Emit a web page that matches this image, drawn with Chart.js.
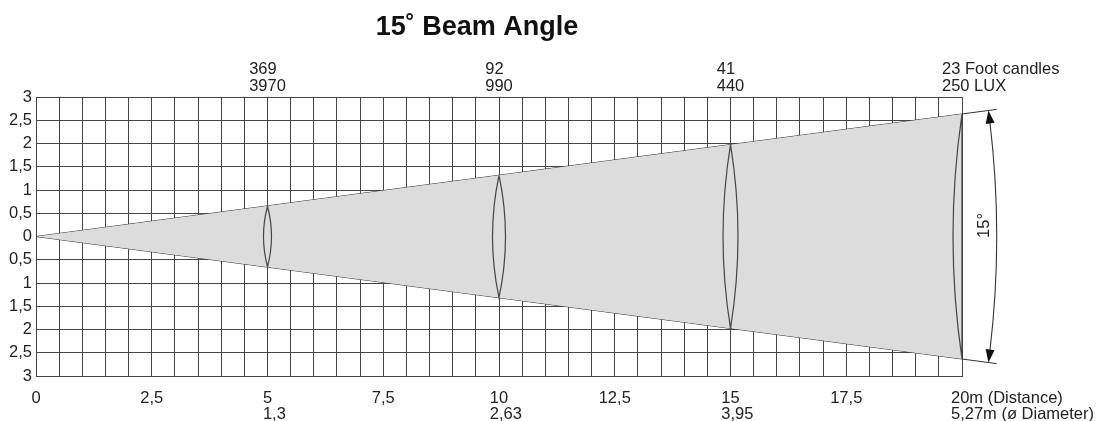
<!DOCTYPE html>
<html>
<head>
<meta charset="utf-8">
<script src="https://cdn.jsdelivr.net/npm/chart.js@4.4.1/dist/chart.umd.min.js"></script>
<style>
  html,body{margin:0;padding:0;background:#fff;}
  canvas{display:block;}
</style>
</head>
<body>
<canvas id="beam" width="1101" height="421"></canvas>
<script>
// Beam data
const distances = [5, 10, 15, 20];            // m
const diameters = [1.3, 2.63, 3.95, 5.27];    // m
const footCandles = [369, 92, 41, 23];
const lux = [3970, 990, 440, 250];

const xLabelValues = [0, 2.5, 5, 7.5, 10, 12.5, 15, 17.5, 20];
const xLabels = ['0', '2,5', '5', '7,5', '10', '12,5', '15', '17,5', '20m (Distance)'];
const diameterLabels = ['1,3', '2,63', '3,95', '5,27m (ø Diameter)'];
const topLine1 = ['369', '92', '41', '23 Foot candles'];
const topLine2 = ['3970', '990', '440', '250 LUX'];

const edgeExtent = 20.75;   // beam edges run a little past the grid
const arcRadius = 20.75;    // angle arrow radius, in distance units

(function(){
  const FONT = '"Liberation Sans", Arial, sans-serif';
  const INK = '#222';
  const LINE = '#444';
  const TXT = 16.5;

  const last = distances.length - 1;
  const halfEnd = diameters[last] / 2;
  const slope = halfEnd / distances[last];
  const edgeY = slope * edgeExtent;

  // closed beam shape up to the last distance
  const beamShape = [{x:0, y:0}, {x:distances[last], y:halfEnd}, {x:distances[last], y:-halfEnd}, {x:0, y:0}];

  const lensLeft = [4, 6.5, 7.5, 9];
  const lensRight = [4, 6.5, 7.5, 0];

  const overlay = {
    id: 'overlay',
    afterDatasetsDraw(chart){
      const {ctx, scales:{x, y}} = chart;
      ctx.save();
      // lenses
      ctx.strokeStyle = LINE;
      ctx.lineWidth = 1.2;
      distances.forEach((d, i) => {
        const h = diameters[i] / 2;
        const px = x.getPixelForValue(d);
        const yT = y.getPixelForValue(h), yB = y.getPixelForValue(-h);
        const ym = (yT + yB) / 2;
        ctx.beginPath();
        ctx.moveTo(px, yT);
        ctx.quadraticCurveTo(px - 2 * lensLeft[i], ym, px, yB);
        ctx.quadraticCurveTo(px + 2 * lensRight[i], ym, px, yT);
        ctx.stroke();
      });

      // angle arrow
      const x0 = x.getPixelForValue(0), y0 = y.getPixelForValue(0);
      const r = x.getPixelForValue(arcRadius) - x0;
      const a = Math.atan((y0 - y.getPixelForValue(halfEnd)) / (x.getPixelForValue(distances[last]) - x0));
      ctx.strokeStyle = '#333';
      ctx.lineWidth = 1.1;
      ctx.beginPath();
      ctx.arc(x0, y0, r, -a + 0.012, a - 0.012);
      ctx.stroke();
      ctx.fillStyle = '#111';
      [-1, 1].forEach(s => {
        const th = s * a;
        const px = x0 + r * Math.cos(th), py = y0 + r * Math.sin(th);
        // tangent pointing outward along the arc
        const dx = -Math.sin(th) * s, dy = Math.cos(th) * s;
        const L = 13, W = 4.5;
        const bx = px - dx * L, by = py - dy * L;
        ctx.beginPath();
        ctx.moveTo(px, py);
        ctx.lineTo(bx - dy * W, by + dx * W);
        ctx.lineTo(bx + dy * W, by - dx * W);
        ctx.closePath();
        ctx.fill();
      });
      ctx.save();
      ctx.translate(x0 + r - 12, y0 - 11);
      ctx.rotate(-Math.PI / 2);
      ctx.fillStyle = INK;
      ctx.font = TXT + 'px ' + FONT;
      ctx.textAlign = 'center';
      ctx.textBaseline = 'middle';
      ctx.fillText('15°', 0, 0);
      ctx.restore();
      ctx.restore();
    },
    afterDraw(chart){
      const {ctx, scales:{x}} = chart;
      ctx.save();
      ctx.fillStyle = INK;
      ctx.textBaseline = 'alphabetic';

      // title
      ctx.font = 'bold 27px ' + FONT;
      ctx.textAlign = 'center';
      ctx.fillStyle = '#111';
      ctx.fillText('15˚ Beam Angle', 477, 35);

      ctx.fillStyle = INK;
      ctx.font = TXT + 'px ' + FONT;
      ctx.textAlign = 'left';

      // intensity labels above the grid
      distances.forEach((d, i) => {
        const px = x.getPixelForValue(d);
        const w = ctx.measureText(topLine2[i]).width;
        const start = i === last ? px - 20 : px - w / 2;
        ctx.fillText(topLine1[i], start, 74);
        ctx.fillText(topLine2[i], start, 91);
      });

      // distance / diameter labels below the grid
      xLabelValues.forEach((v, i) => {
        const px = x.getPixelForValue(v);
        const w = ctx.measureText(xLabels[i]).width;
        const isLast = i === xLabelValues.length - 1;
        const start = isLast ? px - 11 : px - w / 2;
        ctx.fillText(xLabels[i], start, 403);
        const k = distances.indexOf(v);
        if (k >= 0) ctx.fillText(diameterLabels[k], start, 419);
      });
      ctx.restore();
    }
  };

  new Chart(document.getElementById('beam').getContext('2d'), {
    type: 'scatter',
    data: {
      datasets: [
        { data: beamShape, showLine: true, fill: 'shape', backgroundColor: '#dcdcdc',
          borderWidth: 0, pointRadius: 0, tension: 0 },
        { data: [{x:0, y:0}, {x:edgeExtent, y:edgeY}], showLine: true, borderColor: '#333',
          borderWidth: 1, pointRadius: 0, clip: false },
        { data: [{x:0, y:0}, {x:edgeExtent, y:-edgeY}], showLine: true, borderColor: '#333',
          borderWidth: 1, pointRadius: 0, clip: false }
      ]
    },
    options: {
      responsive: false,
      animation: false,
      devicePixelRatio: 1,
      layout: { padding: { left: 0, top: 97, right: 139, bottom: 45 } },
      plugins: { legend: { display: false }, tooltip: { enabled: false } },
      scales: {
        x: {
          type: 'linear', min: 0, max: 20,
          ticks: { stepSize: 0.5, display: false },
          grid: { color: LINE, lineWidth: 1, drawTicks: false },
          border: { color: LINE, width: 1 },
          afterFit: s => { s.height = 0; }
        },
        y: {
          type: 'linear', min: -3, max: 3,
          ticks: {
            stepSize: 0.5, padding: 4, color: INK,
            font: { family: FONT, size: TXT },
            callback: v => String(Math.abs(v)).replace('.', ',')
          },
          grid: { color: LINE, lineWidth: 1, drawTicks: false },
          border: { color: LINE, width: 1 },
          afterFit: s => { s.width = 36; }
        }
      }
    },
    plugins: [overlay]
  });
})();
</script>
</body>
</html>
